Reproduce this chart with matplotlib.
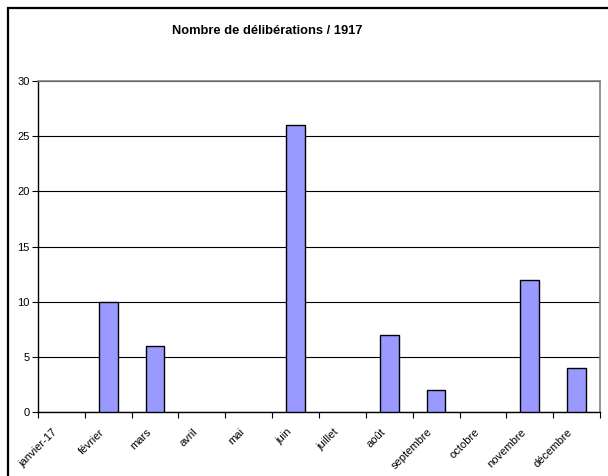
import matplotlib
matplotlib.use("Agg")
import matplotlib.pyplot as plt
from matplotlib.patches import Rectangle
from matplotlib.transforms import ScaledTranslation
import numpy as np

months = ["janvier-17", "février", "mars", "avril", "mai", "juin", "juillet",
          "août", "septembre", "octobre", "novembre", "décembre"]
counts = [0, 10, 6, 0, 0, 26, 0, 7, 2, 0, 12, 4]
title = "Nombre de délibérations / 1917"

plt.rcParams["font.family"] = ["Liberation Sans", "DejaVu Sans"]

W, H = 608, 476
fig = plt.figure(figsize=(W / 100, H / 100), dpi=100)

# outer chart frame (extends past the right and bottom edges)
fig.patches.append(Rectangle((8 / W, -0.1), 1.2, (H - 8) / H + 0.1,
                             transform=fig.transFigure, fill=False,
                             edgecolor="black", linewidth=1.6, zorder=0))

left, right, top, bottom = 38, 600, 81, 412
ax = fig.add_axes([left / W, 1 - bottom / H, (right - left) / W, (bottom - top) / H])

x = np.arange(len(months))
bars = ax.bar(x, counts, width=0.4, color="#9999FF", edgecolor="black",
              linewidth=1.0, zorder=3)
for b, v in zip(bars, counts):
    if v == 0:
        b.set_linewidth(0)

ax.set_xlim(-0.5, len(months) - 0.5)
ax.set_ylim(0, 30)
ax.set_yticks(np.arange(0, 31, 5))
ax.yaxis.grid(True, color="black", linewidth=0.8, zorder=0)

# category boundary ticks; month names as rotated labels under each category
ax.set_xticks(np.arange(-0.5, len(months), 1))
ax.set_xticklabels([])
ax.tick_params(axis="x", length=4, width=0.8, direction="out")
label_tf = ax.get_xaxis_transform() + ScaledTranslation(-9 / 100, -15 / 100, fig.dpi_scale_trans)
for xi, name in zip(x, months):
    ax.text(xi, 0, name, transform=label_tf, rotation=45, rotation_mode="anchor",
            ha="right", va="top", fontsize=8)

ax.tick_params(axis="y", length=4, width=0.8, labelsize=8, pad=2)

for side in ("top", "right"):
    ax.spines[side].set_color("#808080")
    ax.spines[side].set_linewidth(1.2)
for side in ("left", "bottom"):
    ax.spines[side].set_color("black")
    ax.spines[side].set_linewidth(1.0)

fig.text(267 / W, 1 - 31 / H, title, ha="center", va="center",
         fontsize=9.3, fontweight="bold")

fig.savefig("out.png", dpi=100)
